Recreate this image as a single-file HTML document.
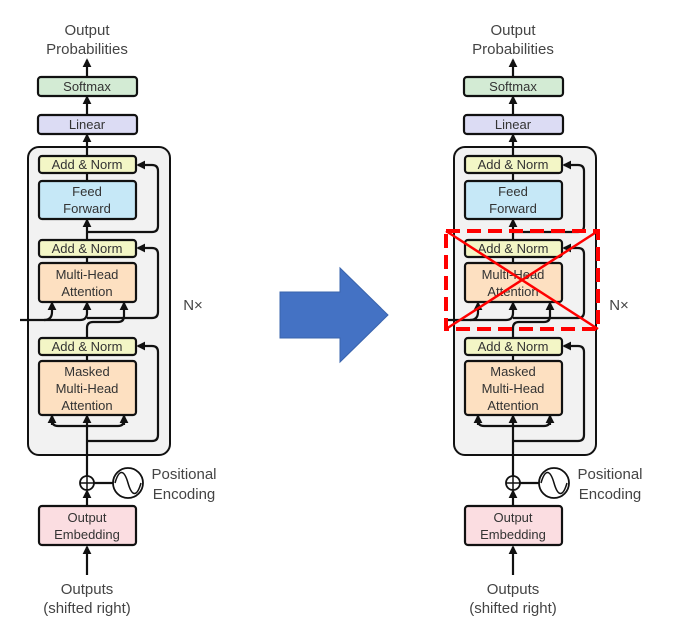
<!DOCTYPE html>
<html><head><meta charset="utf-8"><style>
html,body{margin:0;padding:0;background:#fff;width:685px;height:632px;overflow:hidden}
svg{display:block}
text{font-family:"Liberation Sans",sans-serif;fill:#333;text-anchor:middle}
.b{stroke:#111;stroke-width:2.2}
.l{fill:none;stroke:#111;stroke-width:2.2}
.t{font-size:13px}
.lab{font-size:15px;fill:#444}
</style></head><body>
<svg width="685" height="632" viewBox="0 0 685 632">
<defs>
<marker id="a" viewBox="0 0 10 10" refX="8" refY="5" markerWidth="4" markerHeight="4" orient="auto"><path d="M0,0L10,5L0,10z" fill="#111"/></marker>
</defs>
<g id="L">
<rect x="28" y="147" width="142" height="308" rx="11" fill="#f2f2f2" stroke="#111" stroke-width="2"/>
<text class="lab" x="87" y="35">Output</text>
<text class="lab" x="87" y="54">Probabilities</text>
<line class="l" x1="87" y1="77" x2="87" y2="60" marker-end="url(#a)"/>
<rect class="b" x="38" y="77" width="99" height="19" rx="3" fill="#d3ebd4"/>
<text class="t" x="87" y="91">Softmax</text>
<line class="l" x1="87" y1="115" x2="87" y2="97" marker-end="url(#a)"/>
<rect class="b" x="38" y="115" width="99" height="19" rx="3" fill="#dcdcf4"/>
<text class="t" x="87" y="129">Linear</text>
<line class="l" x1="87" y1="156" x2="87" y2="135" marker-end="url(#a)"/>
<rect class="b" x="39" y="156" width="97" height="17" rx="3" fill="#f3f6c6"/>
<text class="t" x="87" y="169">Add &amp; Norm</text>
<line class="l" x1="87" y1="181" x2="87" y2="173"/>
<rect class="b" x="39" y="181" width="97" height="38" rx="3" fill="#c6e8f7"/>
<text class="t" x="87" y="196">Feed</text>
<text class="t" x="87" y="213">Forward</text>
<line class="l" x1="87" y1="240" x2="87" y2="220" marker-end="url(#a)"/>
<path class="l" d="M87,232H152q6,0 6,-6V171q0,-6 -6,-6H138" marker-end="url(#a)"/>
<rect class="b" x="39" y="240" width="97" height="17" rx="3" fill="#f3f6c6"/>
<text class="t" x="87" y="253">Add &amp; Norm</text>
<line class="l" x1="87" y1="263" x2="87" y2="257"/>
<rect class="b" x="39" y="263" width="97" height="39" rx="3" fill="#fde0c1"/>
<text class="t" x="87" y="279">Multi-Head</text>
<text class="t" x="87" y="296">Attention</text>
<path class="l" d="M87,338V328q0,-6 6,-6H118q6,0 6,-6V303" marker-end="url(#a)"/>
<path class="l" d="M87,318H152q6,0 6,-6V254q0,-6 -6,-6H138" marker-end="url(#a)"/>
<path class="l" d="M20,320H80q7,0 7,-7V303" marker-end="url(#a)"/>
<path class="l" d="M44,320q8,0 8,-8V303" marker-end="url(#a)"/>
<rect class="b" x="39" y="338" width="97" height="17" rx="3" fill="#f3f6c6"/>
<text class="t" x="87" y="351">Add &amp; Norm</text>
<line class="l" x1="87" y1="361" x2="87" y2="355"/>
<rect class="b" x="39" y="361" width="97" height="54" rx="3" fill="#fde0c1"/>
<text class="t" x="87" y="376">Masked</text>
<text class="t" x="87" y="393">Multi-Head</text>
<text class="t" x="87" y="410">Attention</text>
<line class="l" x1="87" y1="476" x2="87" y2="416" marker-end="url(#a)"/>
<path class="l" d="M52,416V420q0,6 6,6H118q6,0 6,-6V416" />
<path class="l" d="M52,425V416" marker-end="url(#a)"/>
<path class="l" d="M124,425V416" marker-end="url(#a)"/>
<path class="l" d="M87,441H152q6,0 6,-6V352q0,-6 -6,-6H138" marker-end="url(#a)"/>
<text x="193" y="310" style="font-size:15px;fill:#444">N×</text>
<circle cx="87" cy="483" r="7" fill="#fff" stroke="#111" stroke-width="1.8"/>
<path d="M80,483H94M87,476V490" stroke="#111" stroke-width="1.5"/>
<line class="l" x1="94" y1="483" x2="113" y2="483"/>
<circle cx="128" cy="483" r="15" fill="#fff" stroke="#111" stroke-width="1.8"/>
<path d="M115,483c4,-14 9,-14 13,0s9,14 13,0" fill="none" stroke="#111" stroke-width="1.5"/>
<text class="lab" x="184" y="479">Positional</text>
<text class="lab" x="184" y="499">Encoding</text>
<line class="l" x1="87" y1="506" x2="87" y2="491" marker-end="url(#a)"/>
<rect class="b" x="39" y="506" width="97" height="39" rx="3" fill="#fbdde1"/>
<text class="t" x="87" y="522">Output</text>
<text class="t" x="87" y="539">Embedding</text>
<line class="l" x1="87" y1="575" x2="87" y2="547" marker-end="url(#a)"/>
<text class="lab" x="87" y="594">Outputs</text>
<text class="lab" x="87" y="613">(shifted right)</text>
</g>
<g transform="translate(426,0)">
<rect x="28" y="147" width="142" height="308" rx="11" fill="#f2f2f2" stroke="#111" stroke-width="2"/>
<text class="lab" x="87" y="35">Output</text>
<text class="lab" x="87" y="54">Probabilities</text>
<line class="l" x1="87" y1="77" x2="87" y2="60" marker-end="url(#a)"/>
<rect class="b" x="38" y="77" width="99" height="19" rx="3" fill="#d3ebd4"/>
<text class="t" x="87" y="91">Softmax</text>
<line class="l" x1="87" y1="115" x2="87" y2="97" marker-end="url(#a)"/>
<rect class="b" x="38" y="115" width="99" height="19" rx="3" fill="#dcdcf4"/>
<text class="t" x="87" y="129">Linear</text>
<line class="l" x1="87" y1="156" x2="87" y2="135" marker-end="url(#a)"/>
<rect class="b" x="39" y="156" width="97" height="17" rx="3" fill="#f3f6c6"/>
<text class="t" x="87" y="169">Add &amp; Norm</text>
<line class="l" x1="87" y1="181" x2="87" y2="173"/>
<rect class="b" x="39" y="181" width="97" height="38" rx="3" fill="#c6e8f7"/>
<text class="t" x="87" y="196">Feed</text>
<text class="t" x="87" y="213">Forward</text>
<line class="l" x1="87" y1="240" x2="87" y2="220" marker-end="url(#a)"/>
<path class="l" d="M87,232H152q6,0 6,-6V171q0,-6 -6,-6H138" marker-end="url(#a)"/>
<rect class="b" x="39" y="240" width="97" height="17" rx="3" fill="#f3f6c6"/>
<text class="t" x="87" y="253">Add &amp; Norm</text>
<line class="l" x1="87" y1="263" x2="87" y2="257"/>
<rect class="b" x="39" y="263" width="97" height="39" rx="3" fill="#fde0c1"/>
<text class="t" x="87" y="279">Multi-Head</text>
<text class="t" x="87" y="296">Attention</text>
<path class="l" d="M87,338V328q0,-6 6,-6H118q6,0 6,-6V303" marker-end="url(#a)"/>
<path class="l" d="M87,318H152q6,0 6,-6V254q0,-6 -6,-6H138" marker-end="url(#a)"/>
<path class="l" d="M20,320H80q7,0 7,-7V303" marker-end="url(#a)"/>
<path class="l" d="M44,320q8,0 8,-8V303" marker-end="url(#a)"/>
<rect class="b" x="39" y="338" width="97" height="17" rx="3" fill="#f3f6c6"/>
<text class="t" x="87" y="351">Add &amp; Norm</text>
<line class="l" x1="87" y1="361" x2="87" y2="355"/>
<rect class="b" x="39" y="361" width="97" height="54" rx="3" fill="#fde0c1"/>
<text class="t" x="87" y="376">Masked</text>
<text class="t" x="87" y="393">Multi-Head</text>
<text class="t" x="87" y="410">Attention</text>
<line class="l" x1="87" y1="476" x2="87" y2="416" marker-end="url(#a)"/>
<path class="l" d="M52,416V420q0,6 6,6H118q6,0 6,-6V416" />
<path class="l" d="M52,425V416" marker-end="url(#a)"/>
<path class="l" d="M124,425V416" marker-end="url(#a)"/>
<path class="l" d="M87,441H152q6,0 6,-6V352q0,-6 -6,-6H138" marker-end="url(#a)"/>
<text x="193" y="310" style="font-size:15px;fill:#444">N×</text>
<circle cx="87" cy="483" r="7" fill="#fff" stroke="#111" stroke-width="1.8"/>
<path d="M80,483H94M87,476V490" stroke="#111" stroke-width="1.5"/>
<line class="l" x1="94" y1="483" x2="113" y2="483"/>
<circle cx="128" cy="483" r="15" fill="#fff" stroke="#111" stroke-width="1.8"/>
<path d="M115,483c4,-14 9,-14 13,0s9,14 13,0" fill="none" stroke="#111" stroke-width="1.5"/>
<text class="lab" x="184" y="479">Positional</text>
<text class="lab" x="184" y="499">Encoding</text>
<line class="l" x1="87" y1="506" x2="87" y2="491" marker-end="url(#a)"/>
<rect class="b" x="39" y="506" width="97" height="39" rx="3" fill="#fbdde1"/>
<text class="t" x="87" y="522">Output</text>
<text class="t" x="87" y="539">Embedding</text>
<line class="l" x1="87" y1="575" x2="87" y2="547" marker-end="url(#a)"/>
<text class="lab" x="87" y="594">Outputs</text>
<text class="lab" x="87" y="613">(shifted right)</text>
</g>
<rect x="446" y="231" width="152" height="98" fill="none" stroke="#f00" stroke-width="4" stroke-dasharray="14,7"/>
<line x1="446" y1="231" x2="598" y2="329" stroke="#f00" stroke-width="2.5"/>
<line x1="446" y1="329" x2="598" y2="231" stroke="#f00" stroke-width="2.5"/>
<polygon points="280,292 340,292 340,268 388,315 340,362 340,338 280,338" fill="#4472c4" stroke="#3a64ad" stroke-width="1"/>
</svg>
</body></html>
